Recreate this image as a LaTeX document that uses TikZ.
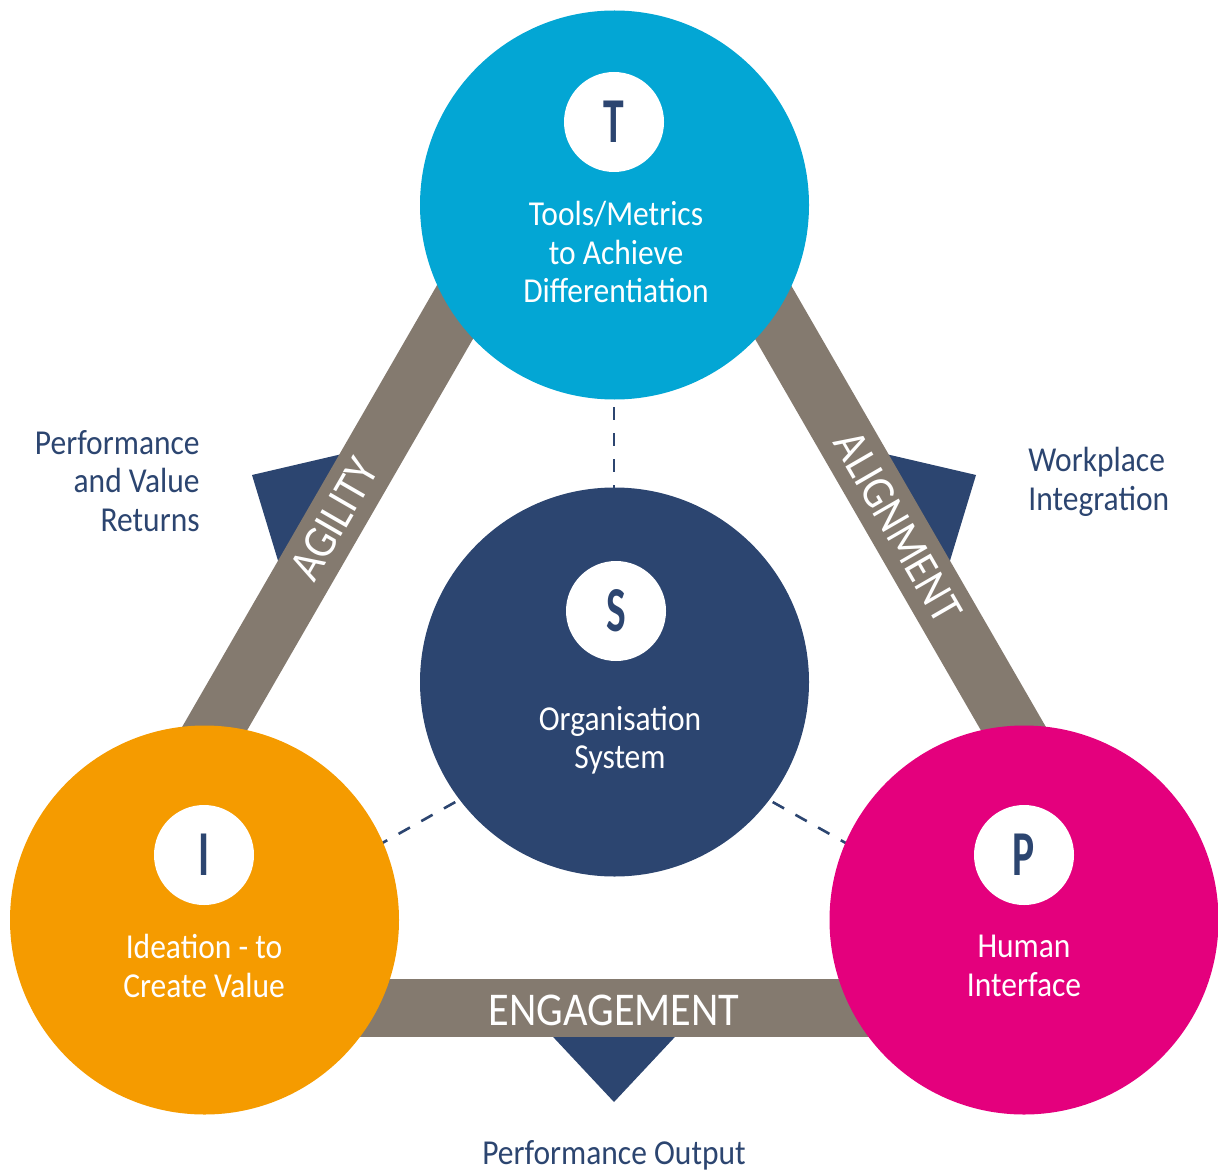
\documentclass[tikz,border=0pt]{standalone}
\usepackage{fontspec}
\setmainfont{Carlito}[FakeStretch=0.9]
\newfontfamily\letterfont{Carlito}[FakeStretch=0.65]
\definecolor{navy}{RGB}{44,69,112}
\definecolor{tcyan}{RGB}{3,166,212}
\definecolor{iorange}{RGB}{245,155,0}
\definecolor{pmag}{RGB}{228,0,125}
\definecolor{barg}{RGB}{132,122,111}
\begin{document}
\begin{tikzpicture}[x=0.5pt,y=-0.5pt,
  bigdisc/.style={circle, minimum size=194.5pt, inner sep=0pt},
  smalldisc/.style={circle, fill=white, minimum size=50pt, inner sep=0pt, text=navy,
    font=\letterfont\bfseries\fontsize{32}{32}\selectfont},
  intext/.style={text=white, align=center, inner sep=0pt, font=\fontsize{17.5}{19.25}\selectfont},
  outtext/.style={text=navy, inner sep=0pt, font=\fontsize{17.5}{19.25}\selectfont},
  barline/.style={draw=barg, line width=29pt},
  barlbl/.style={text=white, inner sep=0pt, font=\fontsize{23.5}{23.5}\selectfont},
  dashln/.style={draw=navy, line width=1.3pt, dash pattern=on 6.5pt off 6.5pt},
  marker/.style={fill=navy}]
\useasboundingbox (0,0) rectangle (1218,1171);
% navy pointers (behind the bars)
\coordinate (ctr) at (614,684);
\fill[marker] (526,1008) -- (614,1102) -- (702,1008) -- cycle;
\begin{scope}[rotate around={120:(ctr)}]
  \fill[marker] (526,1008) -- (614,1102) -- (702,1008) -- cycle;
\end{scope}
\begin{scope}[rotate around={-120:(ctr)}]
  \fill[marker] (526,1008) -- (614,1102) -- (702,1008) -- cycle;
\end{scope}
% bars
\coordinate (A1) at (541,163); \coordinate (A2) at (129,877);
\coordinate (B1) at (687,163); \coordinate (B2) at (1099,877);
\coordinate (C1) at (204,1008); \coordinate (C2) at (1024,1008);
\draw[barline] (A1) -- (A2);
\draw[barline] (B1) -- (B2);
\draw[barline] (C1) -- (C2);
% dashed connectors
\coordinate (sd) at (614,713); \coordinate (id) at (204,943); \coordinate (pd) at (1024,943);
\coordinate (td) at (614,205);
\draw[dashln, dash phase=3pt] (td) -- (sd);
\draw[dashln] (sd) -- (id);
\draw[dashln] (sd) -- (pd);
% big circles
\node[bigdisc, fill=tcyan] (T) at (614.5,205) {};
\node[bigdisc, fill=navy] (S) at (614.5,682) {};
\node[bigdisc, fill=iorange] (I) at (204.5,920) {};
\node[bigdisc, fill=pmag] (P) at (1024,920) {};
% letter discs
\node[smalldisc] (Tl) at (614,122) {T};
\node[smalldisc] (Sl) at (616,611) {S};
\node[smalldisc] (Il) at (204,855) {I};
\node[smalldisc] (Pl) at (1024,855) {P};
% circle texts
\node[intext] (Tt) at (616,252) {Tools/Metrics\\to Achieve\\Differentiation};
\node[intext] (St) at (620,740) {Organisation\\System};
\node[intext] (It) at (204,966) {Ideation - to\\Create Value};
\node[intext] (Pt) at (1024,966) {Human\\Interface};
% bar labels
\node[barlbl, rotate=60] (agl) at (334,519) {AGILITY};
\node[barlbl, rotate=-60] (aln) at (898,527) {ALIGNMENT};
\node[barlbl] (eng) at (614,1010) {ENGAGEMENT};
% outside labels
\node[outtext, align=right, anchor=east] (pvr) at (200,481) {Performance\\and Value\\Returns};
\node[outtext, align=left, anchor=west] (wpi) at (1028,482) {Workplace\\Integration};
\node[outtext] (po) at (614,1155) {Performance Output};
\end{tikzpicture}
\end{document}
